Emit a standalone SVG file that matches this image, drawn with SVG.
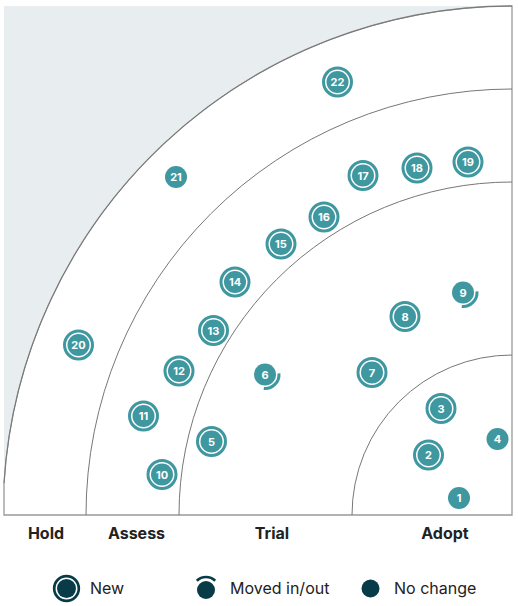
<svg xmlns="http://www.w3.org/2000/svg" width="518" height="606" viewBox="0 0 518 606">
<style>
.arc{fill:none;stroke:#777;stroke-width:1}
.frame{fill:#fff;stroke:#999;stroke-width:1.3}
.fill{fill:#3f97a0}
.ring{fill:none;stroke:#3f97a0;stroke-width:3}
.mv{fill:none;stroke:#3f97a0;stroke-width:3}
.num{font-family:Inter,"Liberation Sans",sans-serif;font-size:11px;font-weight:700;fill:#fff;text-anchor:middle}
.ring-label{font-family:Inter,"Liberation Sans",sans-serif;font-size:16px;font-weight:700;fill:#222;text-anchor:middle}
.leg{font-family:Inter,"Liberation Sans",sans-serif;font-size:16px;fill:#222}
.dk{fill:#073b48}
.dkr{fill:none;stroke:#073b48;stroke-width:2.7}
</style>
<rect x="4" y="6" width="508" height="509" fill="#e8eef0"/>
<g id="rings">
<path class="frame" d="M512,515 L4,515 L4,483.1 A509,509 0 0 1 512,6 Z"/>
<path class="arc" d="M4,483.1 A509,509 0 0 1 512,6"/>
<path class="arc" d="M86,515 A426,426 0 0 1 512,89"/>
<path class="arc" d="M179,515 A333,333 0 0 1 512,182"/>
<path class="arc" d="M352,515 A160,160 0 0 1 512,355"/>
</g>
<g id="ring-labels">
<text class="ring-label" x="46" y="539">Hold</text>
<text class="ring-label" x="136.5" y="539">Assess</text>
<text class="ring-label" x="272" y="539">Trial</text>
<text class="ring-label" x="445" y="539">Adopt</text>
</g>
<g id="blip-1"><circle class="fill" cx="459" cy="498" r="11"/><text class="num" x="459" y="502">1</text></g>
<g id="blip-2"><circle class="ring" cx="428.5" cy="455" r="14"/><circle class="fill" cx="428.5" cy="455" r="11"/><text class="num" x="428.5" y="459">2</text></g>
<g id="blip-3"><circle class="ring" cx="441" cy="408.5" r="14"/><circle class="fill" cx="441" cy="408.5" r="11"/><text class="num" x="441" y="412.5">3</text></g>
<g id="blip-4"><circle class="fill" cx="497.5" cy="439" r="11"/><text class="num" x="497.5" y="443">4</text></g>
<g id="blip-5"><circle class="ring" cx="211.5" cy="441.5" r="14"/><circle class="fill" cx="211.5" cy="441.5" r="11"/><text class="num" x="211.5" y="445.5">5</text></g>
<g id="blip-6"><path class="mv" d="M278.95,373.28 A14,14 0 0 1 263.78,388.45"/><circle class="fill" cx="265" cy="374.5" r="11"/><text class="num" x="265" y="378.5">6</text></g>
<g id="blip-7"><circle class="ring" cx="372" cy="372.5" r="14"/><circle class="fill" cx="372" cy="372.5" r="11"/><text class="num" x="372" y="376.5">7</text></g>
<g id="blip-8"><circle class="ring" cx="405" cy="316.5" r="14"/><circle class="fill" cx="405" cy="316.5" r="11"/><text class="num" x="405" y="320.5">8</text></g>
<g id="blip-9"><path class="mv" d="M476.95,291.28 A14,14 0 0 1 461.78,306.45"/><circle class="fill" cx="463" cy="292.5" r="11"/><text class="num" x="463" y="296.5">9</text></g>
<g id="blip-10"><circle class="ring" cx="162" cy="474.5" r="14"/><circle class="fill" cx="162" cy="474.5" r="11"/><text class="num" x="162" y="478.5">10</text></g>
<g id="blip-11"><circle class="ring" cx="143.5" cy="416" r="14"/><circle class="fill" cx="143.5" cy="416" r="11"/><text class="num" x="143.5" y="420">11</text></g>
<g id="blip-12"><circle class="ring" cx="179" cy="371" r="14"/><circle class="fill" cx="179" cy="371" r="11"/><text class="num" x="179" y="375">12</text></g>
<g id="blip-13"><circle class="ring" cx="213.5" cy="330.5" r="14"/><circle class="fill" cx="213.5" cy="330.5" r="11"/><text class="num" x="213.5" y="334.5">13</text></g>
<g id="blip-14"><circle class="ring" cx="235" cy="282" r="14"/><circle class="fill" cx="235" cy="282" r="11"/><text class="num" x="235" y="286">14</text></g>
<g id="blip-15"><circle class="ring" cx="281" cy="244" r="14"/><circle class="fill" cx="281" cy="244" r="11"/><text class="num" x="281" y="248">15</text></g>
<g id="blip-16"><circle class="ring" cx="324" cy="217" r="14"/><circle class="fill" cx="324" cy="217" r="11"/><text class="num" x="324" y="221">16</text></g>
<g id="blip-17"><circle class="ring" cx="363" cy="175.5" r="14"/><circle class="fill" cx="363" cy="175.5" r="11"/><text class="num" x="363" y="179.5">17</text></g>
<g id="blip-18"><circle class="ring" cx="417" cy="168" r="14"/><circle class="fill" cx="417" cy="168" r="11"/><text class="num" x="417" y="172">18</text></g>
<g id="blip-19"><circle class="ring" cx="468" cy="162" r="14"/><circle class="fill" cx="468" cy="162" r="11"/><text class="num" x="468" y="166">19</text></g>
<g id="blip-20"><circle class="ring" cx="78.5" cy="345" r="14"/><circle class="fill" cx="78.5" cy="345" r="11"/><text class="num" x="78.5" y="349">20</text></g>
<g id="blip-21"><circle class="fill" cx="176" cy="177" r="11"/><text class="num" x="176" y="181">21</text></g>
<g id="blip-22"><circle class="ring" cx="337.5" cy="82" r="14"/><circle class="fill" cx="337.5" cy="82" r="11"/><text class="num" x="337.5" y="86">22</text></g>
<g id="legend">
<g id="legend-new"><circle class="dkr" cx="66.5" cy="588.5" r="12.3"/><circle class="dk" cx="66.5" cy="588.5" r="9.5"/><text class="leg" x="90" y="594">New</text></g>
<g id="legend-moved"><path class="dkr" d="M196.81,580.81 A13,13 0 0 1 215.19,580.81"/><circle class="dk" cx="206" cy="590" r="9"/><text class="leg" x="230" y="594">Moved in/out</text></g>
<g id="legend-nochange"><circle class="dk" cx="370.5" cy="588.5" r="9"/><text class="leg" x="394" y="594">No change</text></g>
</g>
</svg>
